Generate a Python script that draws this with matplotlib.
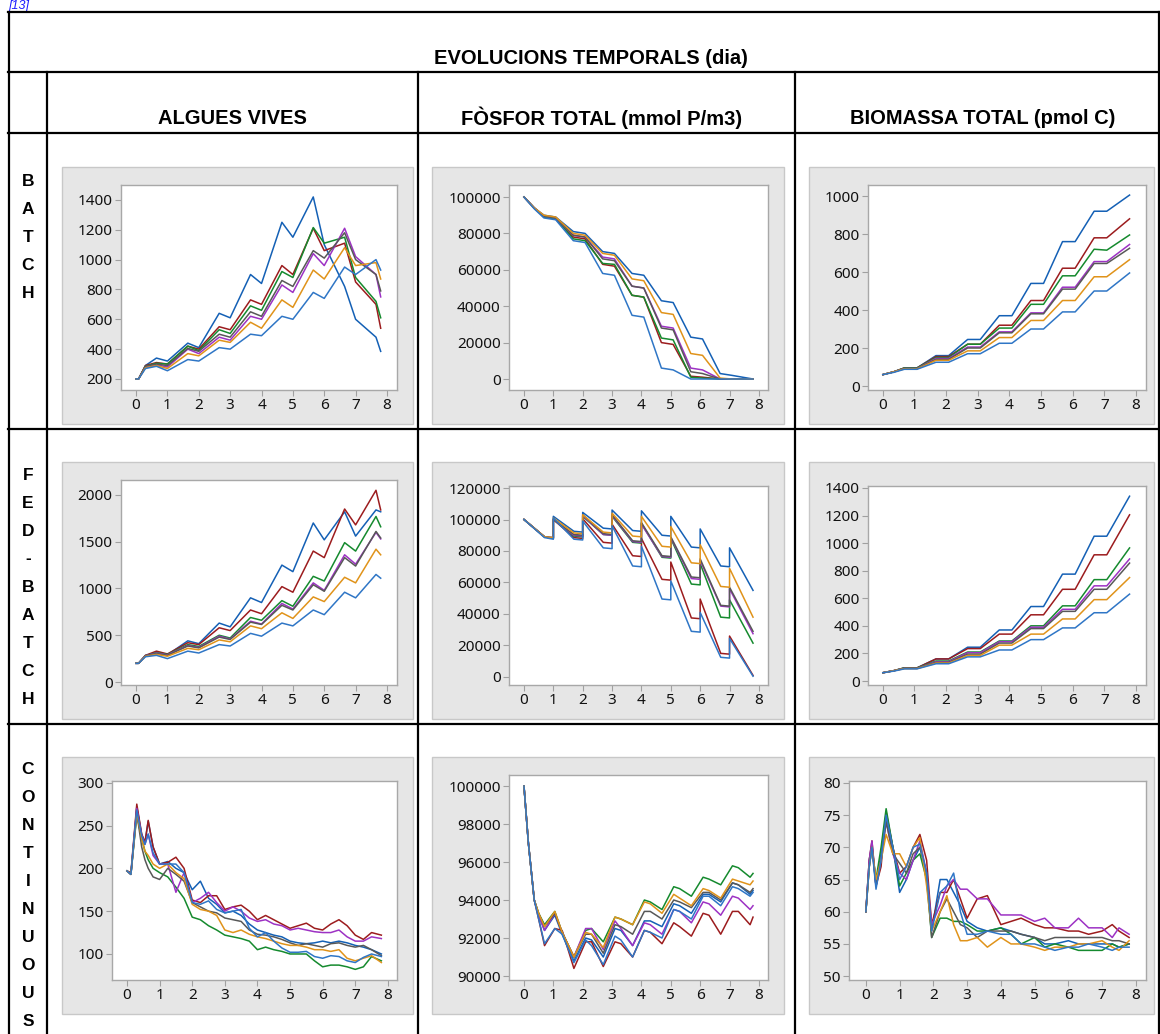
import matplotlib
matplotlib.use("Agg")
import matplotlib.pyplot as plt
from matplotlib.patches import Rectangle
from matplotlib.lines import Line2D

W, H = 1160, 1034

# series colours (same order in every panel)
colors = ['#1460b5', '#9c1c1e', '#158a2e', '#9d32c4', '#585858', '#e0931a', '#2f76c6']

# ---------------- BATCH / FED-BATCH time grids ----------------
t_alg = [0, 0.08, 0.3, 0.65, 1.0, 1.65, 2.0, 2.65, 3.0, 3.65, 4.0, 4.65, 5.0,
         5.65, 6.0, 6.65, 7.0, 7.65, 7.8]
t_plat = [0, 0.35, 0.68, 1.08, 1.68, 2.08, 2.68, 3.08, 3.68, 4.08, 4.68, 5.08,
          5.68, 6.08, 6.68, 7.08, 7.8]
t_fed = [0, 0.7, 1.0, 1.0, 1.7, 2.0, 2.0, 2.7, 3.0, 3.0, 3.7, 4.0, 4.0, 4.7,
         5.0, 5.0, 5.7, 6.0, 6.0, 6.7, 7.0, 7.0, 7.8]

algues_batch = [
    [200, 200, 290, 340, 320, 440, 410, 640, 610, 900, 840, 1250, 1150, 1420, 1100, 820, 600, 480, 385],
    [200, 200, 290, 310, 300, 420, 400, 550, 530, 730, 700, 960, 900, 1210, 1060, 1110, 850, 700, 540],
    [200, 200, 285, 305, 300, 420, 390, 530, 505, 690, 660, 920, 880, 1215, 1110, 1150, 880, 720, 610],
    [200, 200, 280, 295, 280, 400, 370, 480, 460, 620, 600, 830, 780, 1040, 960, 1210, 1020, 900, 750],
    [200, 200, 285, 300, 290, 405, 385, 500, 480, 650, 620, 860, 820, 1060, 1010, 1180, 1000, 900, 790],
    [200, 200, 275, 290, 270, 370, 355, 460, 445, 580, 540, 730, 680, 930, 870, 1080, 960, 980, 870],
    [200, 200, 270, 285, 255, 330, 320, 410, 400, 500, 490, 620, 600, 780, 740, 950, 900, 1000, 930],
]
fosfor_batch = [
    [100000, 94000, 90000, 89000, 81000, 80000, 70000, 69000, 58000, 57000, 43000, 42000, 23000, 22000, 3000, 2000, 0],
    [100000, 94000, 89000, 88000, 78000, 77000, 63000, 62000, 46000, 45000, 20000, 19000, 1500, 1000, 0, 0, 0],
    [100000, 94000, 89000, 88000, 77000, 76000, 63500, 63000, 46000, 45000, 22500, 21500, 1000, 500, 0, 0, 0],
    [100000, 94000, 89500, 88500, 79000, 78000, 67000, 66000, 51000, 50000, 29000, 28000, 6000, 5000, 0, 0, 0],
    [100000, 94000, 89500, 88500, 79000, 78000, 66000, 65000, 51000, 50000, 28000, 27000, 4000, 3000, 0, 0, 0],
    [100000, 94000, 90000, 89000, 80000, 79000, 69000, 68000, 55000, 54000, 36500, 35500, 14000, 13000, 500, 0, 0],
    [100000, 93500, 88500, 87500, 76000, 75000, 58000, 57000, 35000, 34000, 6000, 5000, 0, 0, 0, 0, 0],
]
biomassa_batch = [
    [60, 75, 95, 95, 160, 160, 245, 245, 370, 370, 540, 540, 760, 760, 920, 920, 1005],
    [60, 75, 95, 95, 155, 155, 220, 220, 320, 320, 450, 450, 620, 620, 780, 780, 880],
    [60, 75, 95, 95, 150, 150, 220, 220, 305, 305, 430, 430, 580, 580, 720, 715, 795],
    [60, 75, 92, 92, 145, 145, 205, 205, 285, 285, 385, 385, 520, 520, 655, 655, 745],
    [60, 75, 92, 92, 140, 140, 200, 200, 280, 280, 380, 380, 510, 510, 645, 645, 725],
    [60, 75, 90, 90, 135, 135, 185, 185, 255, 255, 345, 345, 450, 450, 575, 575, 665],
    [60, 72, 88, 88, 125, 125, 170, 170, 225, 225, 300, 300, 390, 390, 500, 500, 595],
]

algues_fed = [
    [200, 200, 285, 310, 290, 440, 410, 630, 590, 900, 850, 1250, 1180, 1700, 1520, 1820, 1560, 1840, 1820],
    [200, 200, 285, 330, 300, 420, 400, 580, 550, 770, 730, 1020, 960, 1400, 1330, 1850, 1680, 2050, 1840],
    [200, 200, 280, 315, 295, 400, 380, 500, 470, 690, 660, 870, 810, 1130, 1080, 1490, 1400, 1770, 1660],
    [200, 200, 280, 310, 290, 390, 370, 490, 460, 650, 620, 840, 780, 1060, 980, 1360, 1260, 1600, 1530],
    [200, 200, 280, 305, 285, 385, 365, 480, 455, 640, 615, 820, 770, 1040, 970, 1330, 1240, 1610, 1540],
    [200, 200, 275, 295, 275, 360, 345, 450, 430, 600, 570, 740, 680, 910, 860, 1120, 1060, 1420, 1360],
    [200, 200, 270, 285, 250, 330, 310, 400, 385, 520, 490, 630, 600, 770, 720, 960, 900, 1150, 1110],
]
fosfor_fed = [
    [100000, 89000, 88000, 102000, 92500, 92000, 104500, 94500, 94000, 106000, 93000, 92500,
     105500, 90000, 89500, 102000, 82500, 82000, 94000, 70500, 70000, 82000, 55000],
    [100000, 89000, 88000, 100000, 88500, 88000, 100500, 85500, 85000, 97000, 77000, 76500,
     88000, 62000, 61500, 73000, 37500, 37000, 49500, 15000, 14500, 26000, 1000],
    [100000, 89000, 88000, 100000, 89500, 89000, 102000, 90500, 90000, 102000, 85500, 85000,
     97500, 76000, 75500, 88000, 59000, 58500, 72000, 38000, 37500, 49000, 21500],
    [100000, 89000, 88500, 100000, 90000, 89500, 102500, 90500, 90000, 102500, 86000, 85500,
     97000, 76500, 76000, 88500, 62500, 62000, 74000, 45000, 44500, 56000, 27500],
    [100000, 89000, 88500, 100000, 90500, 90000, 103000, 91000, 90500, 103000, 86500, 86000,
     98000, 77000, 76500, 89000, 63500, 63000, 75000, 45500, 45000, 57000, 29000],
    [100000, 89000, 88500, 101000, 91500, 91000, 103000, 92000, 91500, 104000, 89500, 89000,
     102000, 83000, 82500, 95500, 72500, 72000, 84000, 57500, 57000, 69000, 38000],
    [100000, 88500, 87500, 101000, 87500, 87000, 99000, 82000, 81500, 96000, 70500, 70000,
     83000, 49500, 49000, 61000, 29000, 28500, 41000, 12500, 12000, 24500, 500],
]
biomassa_fed = [
    [60, 75, 95, 95, 160, 160, 245, 245, 370, 370, 540, 540, 775, 775, 1050, 1050, 1340],
    [60, 75, 95, 95, 160, 160, 235, 235, 340, 340, 480, 480, 665, 665, 915, 915, 1205],
    [60, 75, 95, 95, 145, 145, 210, 210, 290, 290, 400, 400, 545, 545, 735, 735, 965],
    [60, 75, 92, 92, 140, 140, 205, 205, 285, 285, 390, 390, 520, 520, 690, 690, 885],
    [60, 75, 92, 92, 135, 135, 195, 195, 275, 275, 380, 380, 505, 505, 665, 665, 855],
    [60, 75, 90, 90, 130, 130, 185, 185, 260, 260, 340, 340, 450, 450, 590, 590, 750],
    [60, 72, 88, 88, 125, 125, 175, 175, 225, 225, 300, 300, 385, 385, 495, 495, 630],
]

# ---------------- CONTINUOUS ----------------
t_alg_c = [0, 0.12, 0.3, 0.45, 0.55, 0.65, 0.8, 1.0, 1.25, 1.5, 1.75, 2.0, 2.25, 2.5,
           2.75, 3.0, 3.25, 3.5, 3.75, 4.0, 4.25, 4.5, 4.75, 5.0, 5.25, 5.5, 5.75,
           6.0, 6.25, 6.5, 6.75, 7.0, 7.25, 7.5, 7.8]
algues_cont = [
    [197, 193, 272, 240, 230, 255, 225, 205, 208, 200, 195, 175, 185, 165, 158, 148, 150, 145,
     135, 128, 125, 122, 120, 115, 113, 112, 113, 115, 113, 115, 113, 110, 108, 105, 100],
    [197, 195, 275, 240, 230, 256, 225, 205, 207, 213, 200, 163, 160, 168, 168, 152, 155, 157,
     150, 140, 145, 140, 135, 130, 133, 136, 130, 128, 135, 140, 133, 122, 117, 125, 122],
    [197, 193, 262, 235, 220, 210, 200, 195, 190, 178, 165, 143, 140, 133, 128, 122, 120, 118,
     115, 105, 108, 105, 103, 100, 100, 100, 92, 85, 87, 87, 85, 82, 85, 97, 92],
    [197, 193, 270, 238, 228, 240, 215, 205, 205, 172, 195, 160, 165, 172, 160, 150, 155, 150,
     142, 138, 140, 135, 133, 128, 130, 128, 126, 125, 125, 128, 120, 115, 115, 120, 118],
    [197, 193, 265, 225, 210, 200, 190, 187, 200, 193, 185, 160, 155, 150, 148, 142, 140, 138,
     128, 123, 122, 120, 117, 113, 110, 112, 110, 108, 112, 113, 110, 108, 110, 105, 98],
    [197, 193, 265, 235, 220, 215, 205, 200, 205, 195, 188, 158, 152, 150, 145, 128, 125, 128,
     123, 120, 118, 115, 112, 110, 110, 108, 105, 105, 103, 105, 95, 92, 95, 98, 90],
    [197, 193, 268, 238, 228, 240, 218, 205, 205, 205, 195, 160, 158, 162, 152, 148, 150, 152,
     130, 120, 125, 115, 107, 102, 102, 103, 97, 95, 98, 97, 92, 90, 96, 100, 97],
]

t_fos_c = [0, 0.15, 0.35, 0.5, 0.7, 1.05, 1.3, 1.7, 2.1, 2.3, 2.7, 3.1, 3.3, 3.7, 4.1,
           4.3, 4.7, 5.1, 5.3, 5.7, 6.1, 6.3, 6.7, 7.1, 7.3, 7.7, 7.8]
fosfor_cont = [
    [100000, 97000, 94000, 93200, 92400, 93200, 92200, 90800, 92000, 91900, 91000, 92500, 92400, 91600,
     92900, 92900, 92600, 93800, 93700, 93300, 94300, 94300, 93900, 94900, 94800, 94300, 94500],
    [100000, 97000, 94000, 93000, 91600, 92500, 92400, 90400, 91800, 91800, 90500, 91800, 91700, 91000,
     92400, 92300, 91700, 92800, 92600, 92100, 93300, 93200, 92200, 93400, 93400, 92700, 93100],
    [100000, 97000, 94000, 93300, 92700, 93400, 92300, 91000, 92400, 92500, 91800, 93100, 93000, 92700,
     94000, 93900, 93500, 94700, 94600, 94200, 95200, 95100, 94800, 95800, 95700, 95200, 95400],
    [100000, 97000, 94000, 93200, 92400, 93300, 92300, 91000, 92500, 92500, 91400, 92900, 92500, 91600,
     92800, 92700, 92200, 93500, 93400, 92800, 93900, 93800, 93200, 94200, 94100, 93500, 93700],
    [100000, 97000, 94000, 93300, 92600, 93300, 92300, 91000, 92200, 92200, 91200, 92700, 92600, 92200,
     93400, 93400, 93000, 94000, 93900, 93600, 94400, 94400, 94000, 94900, 94800, 94400, 94600],
    [100000, 97000, 94000, 93300, 92600, 93400, 92300, 91000, 92300, 92200, 91500, 93100, 93000, 92700,
     93900, 93800, 93300, 94300, 94100, 93700, 94600, 94500, 94100, 95100, 95000, 94800, 95000],
    [100000, 97000, 94000, 93000, 91700, 92500, 92200, 90700, 91900, 91600, 90600, 92100, 91900, 91000,
     92400, 92300, 92000, 93500, 93400, 93000, 94200, 94200, 93700, 94700, 94600, 94200, 94400],
]

t_bio_c = [0, 0.1, 0.18, 0.3, 0.45, 0.6, 0.8, 1.0, 1.2, 1.4, 1.6, 1.8, 1.95, 2.2, 2.4,
           2.6, 2.8, 3.0, 3.3, 3.6, 4.0, 4.3, 4.6, 5.0, 5.3, 5.6, 6.0, 6.3, 6.6, 7.0,
           7.3, 7.5, 7.8]
biomassa_cont = [
    [60, 68, 70.5, 64, 69, 75, 70, 63, 65, 68, 70, 66, 57, 65, 65, 63, 61, 58.5, 57.5, 57, 57.5,
     57, 56.5, 56, 55, 55, 55.5, 55, 55, 55, 55, 54.5, 55],
    [60, 68, 71, 64, 67, 75.5, 70, 66, 67, 70, 72, 68, 58, 63, 63, 65, 62, 59, 62, 62.5, 58,
     58.5, 59, 58, 57.5, 57.5, 57, 57, 56.5, 57, 58, 57, 56],
    [60, 67, 70, 65, 70, 76, 70, 64, 66, 68, 69, 65, 56, 59, 59, 58.5, 58.5, 58, 57, 57, 57.5,
     56.5, 55, 56, 54.5, 55, 54.5, 54, 54, 54, 55, 54.5, 55],
    [60, 68, 71, 64, 68, 74, 69, 66, 65, 68, 71, 66, 58, 61, 64, 65, 63.5, 63.5, 62, 62, 59.5,
     59.5, 59.5, 58.5, 59, 57.5, 57.5, 59, 57.5, 57.5, 56, 57.5, 56.5],
    [60, 67, 70, 64, 68, 74, 69, 67.5, 66, 69, 70, 66, 56, 60, 62, 60, 58, 57.5, 56, 57, 57,
     57, 56.5, 56, 55.5, 56, 56, 56, 56, 56, 55.5, 55.5, 55],
    [60, 67, 70, 65, 68, 72, 69, 69, 67, 70, 71.5, 64, 57, 60, 62.5, 58, 55.5, 55.5, 56, 54.5,
     56, 55, 55, 54.5, 54, 54.5, 54.5, 55, 55, 55.5, 54.5, 54, 55.5],
    [60, 67, 70, 63.5, 68, 75, 70, 65, 67, 70, 70.5, 66, 57, 63, 64, 66, 60, 56.5, 56.5, 57,
     56.5, 56.5, 55, 55, 54.5, 54, 54.5, 54.5, 55, 54.5, 54, 54.5, 54.5],
]

x_ticks = list(range(0, 9))

# panels: data, time, grey box (l, t, r, b), plot area (l, t, r, b), xlim, ylim, yticks
panels = [
    (algues_batch, t_alg, (62, 167, 413, 424), (121, 185, 397, 390), (-0.48, 8.32), (126, 1500), range(200, 1401, 200)),
    (fosfor_batch, t_plat, (432, 167, 784, 424), (509, 185, 768, 390), (-0.51, 8.31), (-6044, 106600), range(0, 100001, 20000)),
    (biomassa_batch, t_plat, (809, 167, 1154, 424), (868, 185, 1146, 390), (-0.47, 8.32), (-21, 1058), range(0, 1001, 200)),
    (algues_fed, t_alg, (62, 462, 413, 719), (121, 480, 397, 685), (-0.48, 8.32), (-32, 2160), range(0, 2001, 500)),
    (fosfor_fed, t_fed, (432, 462, 784, 719), (509, 486, 768, 685), (-0.51, 8.31), (-5080, 121270), range(0, 120001, 20000)),
    (biomassa_fed, t_plat, (809, 462, 1154, 719), (868, 486, 1146, 685), (-0.47, 8.32), (-29, 1414), range(0, 1401, 200)),
    (algues_cont, t_alg_c, (62, 757, 413, 1014), (112, 781, 397, 980), (-0.46, 8.28), (69.6, 302), range(100, 301, 50)),
    (fosfor_cont, t_fos_c, (432, 757, 784, 1014), (509, 775, 768, 980), (-0.51, 8.31), (89790, 100580), range(90000, 100001, 2000)),
    (biomassa_cont, t_bio_c, (809, 757, 1154, 1014), (849, 781, 1146, 980), (-0.5, 8.3), (49.4, 80.3), range(50, 81, 5)),
]

fig = plt.figure(figsize=(W / 100, H / 100), dpi=100)
fig.patch.set_facecolor('white')


def fx(x):
    return x / W


def fy(y):
    return 1 - y / H


for data, t, box, area, xl, yl, yt in panels:
    bl, bt, br, bb = box
    fig.add_artist(Rectangle((fx(bl), fy(bb)), fx(br - bl), (bb - bt) / H,
                             transform=fig.transFigure, facecolor='#e6e6e6',
                             edgecolor='#c8c8c8', lw=1, zorder=-5))
    l, tp, r, b = area
    ax = fig.add_axes([fx(l), fy(b), fx(r - l), (b - tp) / H])
    ax.set_facecolor('white')
    for i, ys in enumerate(data):
        ax.plot(t, ys, color=colors[i], lw=1.1)
    ax.set_xlim(*xl)
    ax.set_ylim(*yl)
    ax.set_xticks(x_ticks)
    ax.set_yticks(list(yt))
    for s in ax.spines.values():
        s.set_color('#a8a8a8')
        s.set_linewidth(1.0)
    ax.tick_params(direction='out', length=4, width=0.8, color='#a0a0a0',
                   labelsize=11, pad=2, labelcolor='#111111')
    for lab in ax.get_xticklabels() + ax.get_yticklabels():
        lab.set_fontfamily('Noto Sans')

# table lines
lw_tab = 1.6


def hline(y, x0, x1):
    fig.add_artist(Line2D([fx(x0), fx(x1)], [fy(y), fy(y)], color='black',
                          lw=lw_tab, transform=fig.transFigure, zorder=10))


def vline(x, y0, y1):
    fig.add_artist(Line2D([fx(x), fx(x)], [fy(y0), fy(y1)], color='black',
                          lw=lw_tab, transform=fig.transFigure, zorder=10))


hline(12, 8, 1159)
hline(72, 8, 1159)
hline(133, 8, 1159)
hline(429, 8, 1159)
hline(724, 8, 1159)
vline(9, 12, 1034)
vline(1158.5, 12, 1034)
vline(47, 72, 1034)
vline(418, 72, 1034)
vline(795, 72, 1034)

# headers
hdr = dict(fontfamily='Liberation Sans', fontweight='bold', fontsize=14.5,
           ha='center', va='center', color='black')
fig.text(fx(591), fy(58), 'EVOLUCIONS TEMPORALS (dia)', **hdr)
fig.text(fx(232), fy(118), 'ALGUES VIVES', **hdr)
fig.text(fx(602), fy(118), 'FÒSFOR TOTAL (mmol P/m3)', **hdr)
fig.text(fx(983), fy(118), 'BIOMASSA TOTAL (pmol C)', **hdr)

fig.text(fx(8), fy(9), '[13]', color='#1a1aff', fontfamily='Liberation Sans',
         fontstyle='italic', fontsize=9, ha='left', va='baseline')

# vertical row labels
row_labels = [('BATCH', 181), ('FED-BATCH', 475), ('CONTINUOUS', 770)]
for word, y0 in row_labels:
    for k, ch in enumerate(word):
        fig.text(fx(28), fy(y0 + k * 28), ch, fontfamily='Liberation Sans',
                 fontweight='bold', fontsize=12.5, ha='center', va='center')

fig.savefig('out.png', dpi=100)
